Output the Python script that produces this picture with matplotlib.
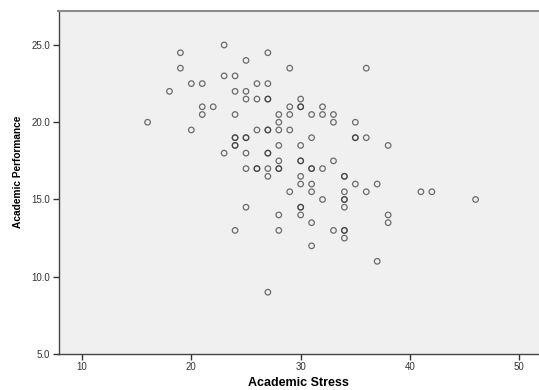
import matplotlib.pyplot as plt

# Academic Stress (x) and Academic Performance (y), one entry per respondent
stress = [
    23,
    19, 27,
    25,
    19, 29, 36,
    23, 24,
    20, 21, 26, 27,
    18, 24, 25,
    25, 26, 27, 27, 30,
    21, 22, 29, 30, 30, 32,
    21, 24, 28, 29, 31, 32, 33,
    16, 28, 33, 35,
    20, 26, 27, 27, 28, 29,
    24, 24, 25, 25, 31, 35, 35, 36,
    24, 24, 28, 30, 38,
    23, 25, 27, 27,
    28, 30, 30, 33,
    25, 26, 26, 27, 28, 28, 31, 31, 32,
    27, 30, 34, 34,
    30, 31, 35, 37,
    29, 31, 34, 36, 41, 42,
    32, 34, 34, 46,
    25, 30, 30, 34,
    28, 30, 38,
    31, 38,
    24, 28, 33, 34, 34,
    34,
    31,
    37,
    27,
]
performance = [
    25.0,
    24.5, 24.5,
    24.0,
    23.5, 23.5, 23.5,
    23.0, 23.0,
    22.5, 22.5, 22.5, 22.5,
    22.0, 22.0, 22.0,
    21.5, 21.5, 21.5, 21.5, 21.5,
    21.0, 21.0, 21.0, 21.0, 21.0, 21.0,
    20.5, 20.5, 20.5, 20.5, 20.5, 20.5, 20.5,
    20.0, 20.0, 20.0, 20.0,
    19.5, 19.5, 19.5, 19.5, 19.5, 19.5,
    19.0, 19.0, 19.0, 19.0, 19.0, 19.0, 19.0, 19.0,
    18.5, 18.5, 18.5, 18.5, 18.5,
    18.0, 18.0, 18.0, 18.0,
    17.5, 17.5, 17.5, 17.5,
    17.0, 17.0, 17.0, 17.0, 17.0, 17.0, 17.0, 17.0, 17.0,
    16.5, 16.5, 16.5, 16.5,
    16.0, 16.0, 16.0, 16.0,
    15.5, 15.5, 15.5, 15.5, 15.5, 15.5,
    15.0, 15.0, 15.0, 15.0,
    14.5, 14.5, 14.5, 14.5,
    14.0, 14.0, 14.0,
    13.5, 13.5,
    13.0, 13.0, 13.0, 13.0, 13.0,
    12.5,
    12.0,
    11.0,
    9.0,
]

x_ticks = [10, 20, 30, 40, 50]
y_ticks = [5.0, 10.0, 15.0, 20.0, 25.0]

plt.rcParams['font.family'] = ['Liberation Sans', 'DejaVu Sans']

fig = plt.figure(figsize=(5.39, 3.90), dpi=100)
ax = fig.add_axes([58.5 / 539, 1 - 354 / 390, (539 - 58.5) / 539, (354 - 11) / 390])
ax.set_facecolor('#f0f0f0')

ax.scatter(stress, performance, s=16, facecolors='none',
           edgecolors=(0.2, 0.2, 0.2, 0.7), linewidths=0.9, zorder=3)

ax.set_xlim(7.85, 51.8)
ax.set_ylim(5.0, 27.2)
ax.set_xticks(x_ticks)
ax.set_yticks(y_ticks)
ax.set_yticklabels([f"{v:.1f}" for v in y_ticks])
ax.tick_params(axis='both', direction='out', length=4, width=1,
               color='#333333', labelsize=7, labelcolor='#333333', pad=2)

for side in ['left', 'bottom']:
    ax.spines[side].set_color('#444444')
    ax.spines[side].set_linewidth(1.0)
ax.spines['top'].set_color('#8c8c8c')
ax.spines['top'].set_linewidth(1.5)
ax.spines['right'].set_visible(False)

ax.set_xlabel("Academic Stress", fontsize=9, fontweight='bold')
ax.set_ylabel("Academic Performance", fontsize=7.3, fontweight='bold')
ax.xaxis.set_label_coords(0.5, -0.068)
ax.yaxis.set_label_coords(-0.073, 0.53)

fig.savefig("out.png", dpi=100)
